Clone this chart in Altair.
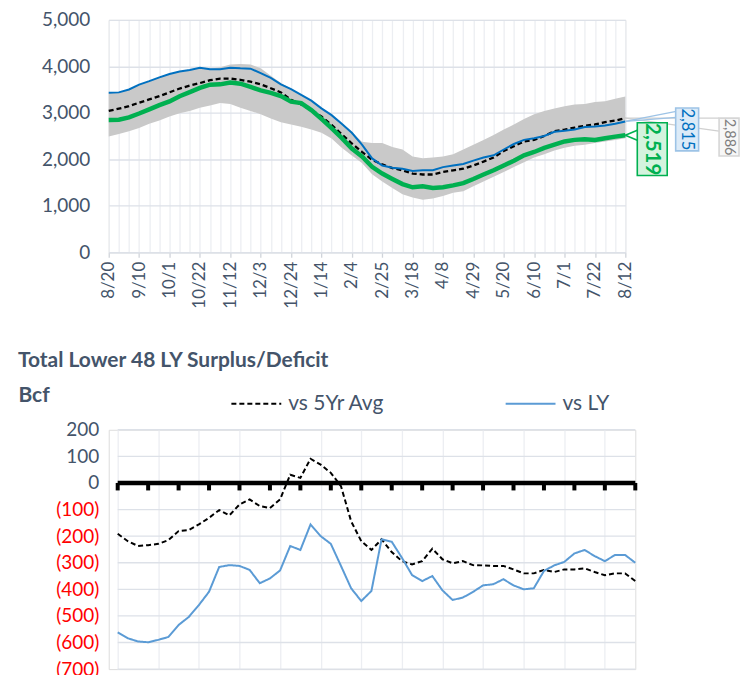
import altair as alt
import pandas as pd

# ---------------- data ----------------
week_dates = pd.date_range("2022-08-20", periods=52, freq="7D")
week_labels = [f"{d.month}/{d.day}" for d in week_dates]
weeks = list(range(52))

storage_current = [2847, 2850, 2902, 2985, 3075, 3164, 3246, 3358, 3447, 3536, 3606, 3613, 3654,
                   3627, 3557, 3482, 3430, 3360, 3240, 3210, 3060, 2870, 2670, 2460, 2230, 2060,
                   1840, 1694, 1577, 1466, 1398, 1418, 1383, 1398, 1439, 1487, 1577, 1673, 1764,
                   1867, 1971, 2087, 2157, 2246, 2315, 2385, 2418, 2433, 2418, 2453, 2488, 2519]
storage_last_year = [3433, 3440, 3503, 3606, 3681, 3764, 3834, 3889, 3923, 3971, 3937, 3937, 3971,
                     3958, 3951, 3855, 3751, 3613, 3509, 3385, 3261, 3095, 2950, 2764, 2571, 2315,
                     2019, 1867, 1818, 1797, 1749, 1763, 1763, 1832, 1867, 1901, 1971, 2039, 2087,
                     2211, 2329, 2418, 2453, 2501, 2592, 2613, 2640, 2696, 2708, 2729, 2764, 2815]
storage_5yr_avg = [3040, 3089, 3143, 3219, 3288, 3358, 3441, 3523, 3586, 3640, 3702, 3737, 3737,
                   3710, 3669, 3613, 3530, 3440, 3280, 3180, 3060, 2920, 2740, 2540, 2340, 2160,
                   1990, 1890, 1812, 1764, 1694, 1673, 1673, 1729, 1764, 1797, 1867, 1950, 2039,
                   2178, 2281, 2385, 2418, 2501, 2605, 2640, 2681, 2723, 2750, 2799, 2833, 2886]
storage_5yr_max = [3433, 3440, 3503, 3606, 3681, 3764, 3834, 3889, 3923, 3971, 3950, 3980, 4040,
                   4050, 4040, 3960, 3800, 3640, 3520, 3390, 3265, 3100, 2955, 2770, 2580, 2380,
                   2350, 2350, 2267, 2211, 2060, 2025, 2039, 2060, 2108, 2211, 2315, 2418, 2522,
                   2640, 2750, 2868, 2971, 3040, 3095, 3143, 3178, 3192, 3234, 3247, 3302, 3350]
storage_5yr_min = [2488, 2543, 2604, 2674, 2764, 2833, 2923, 2992, 3040, 3109, 3157, 3213, 3192,
                   3109, 3040, 2971, 2880, 2800, 2750, 2700, 2640, 2570, 2450, 2250, 2080, 1920,
                   1680, 1522, 1383, 1246, 1176, 1128, 1155, 1211, 1280, 1315, 1418, 1522, 1625,
                   1729, 1832, 1936, 2039, 2108, 2191, 2246, 2294, 2315, 2350, 2385, 2418, 2453]
top_y_ticks = [0, 1000, 2000, 3000, 4000, 5000]

series_names = ["vs 5Yr Avg", "vs LY"]
diff_vs_5yr = [-191, -219, -237, -234, -229, -215, -181, -177, -156, -131, -102, -122, -81,
               -62, -87, -94, -62, 31, 19, 91, 69, 38, -12, -144, -219, -252, -212, -260,
               -294, -306, -294, -247, -287, -302, -294, -309, -310, -312, -312, -325, -340,
               -340, -327, -335, -325, -325, -321, -335, -347, -340, -340, -369]
diff_vs_ly = [-562, -584, -596, -599, -590, -579, -534, -504, -459, -409, -316, -309, -312,
              -327, -377, -359, -329, -237, -252, -156, -200, -229, -312, -396, -444, -406,
              -212, -221, -281, -346, -369, -350, -404, -440, -431, -410, -385, -381, -362,
              -385, -400, -396, -331, -310, -297, -265, -252, -275, -294, -271, -271, -300]
bot_y_ticks = list(range(-700, 201, 100))

bottom_title = "Total Lower 48 LY Surplus/Deficit"

# ---------------- styling ----------------
FONT = "Lato"
SLATE = "#44546a"
HGRID = "#dde1e8"
VGRID = "#eceef2"

top_df = pd.DataFrame({"week": weeks, "cur": storage_current, "ly": storage_last_year,
                       "avg": storage_5yr_avg, "hi": storage_5yr_max, "lo": storage_5yr_min})

lab_arr = "[" + ",".join(f"'{s}'" for s in week_labels) + "]"

x_top_axis = alt.Axis(values=weeks, labelExpr=f"datum.value % 3 === 0 ? {lab_arr}[datum.value] : ''",
                      labelAngle=-90, labelOverlap=False, labelFont=FONT, labelFontSize=17,
                      labelColor=SLATE, labelPadding=4, grid=True, gridColor=VGRID, gridWidth=1.3,
                      domainColor=HGRID, domainWidth=1.3,
                      tickColor={"condition": {"test": "datum.value % 3 === 0", "value": "#d0d4da"},
                                 "value": "rgba(0,0,0,0)"},
                      tickSize=5, tickWidth=1.3, title=None)
x_top_scale = alt.Scale(domain=[0, 51], nice=False, zero=False)
y_top_scale = alt.Scale(domain=[0, 5000], nice=False)
y_top_axis = alt.Axis(values=top_y_ticks, format=",d", labelFont=FONT,
                      labelFontSize=19, labelColor=SLATE, labelPadding=19, grid=True,
                      gridColor=HGRID, gridWidth=1.3, domain=False, ticks=False, title=None)


def xt():
    return alt.X("week:Q", scale=x_top_scale, axis=x_top_axis, title=None)


def yt(field):
    return alt.Y(f"{field}:Q", scale=y_top_scale, axis=y_top_axis, title=None)


band = alt.Chart(top_df).mark_area(color="#c9c9c9", opacity=1).encode(x=xt(), y=yt("lo"), y2="hi:Q")
avg_line = alt.Chart(top_df).mark_line(color="black", strokeWidth=2.3, strokeDash=[5, 3]).encode(x=xt(), y=yt("avg"))
ly_line = alt.Chart(top_df).mark_line(color="#0070c0", strokeWidth=2).encode(x=xt(), y=yt("ly"))
cur_line = alt.Chart(top_df).mark_line(color="#00b050", strokeWidth=4.5).encode(x=xt(), y=yt("cur"))


def callout(value, label, text_color, fill, stroke, fsize, fweight, w, h, dx, dy, leaders, lcolor, lwidth):
    d = pd.DataFrame({"week": [weeks[-1]], "v": [value], "label": [label]})
    base = alt.Chart(d).encode(x=xt(), y=yt("v"))
    layers = []
    for (ox, oy) in leaders:
        layers.append(base.mark_rule(color=lcolor, strokeWidth=lwidth, x2Offset=ox, y2Offset=oy)
                      .encode(x2="week:Q", y2="v:Q"))
    r = w / h
    shape = f"M{-r:.3f},-1H{r:.3f}V1H{-r:.3f}Z"
    layers.append(base.mark_point(shape=shape, size=h * h, filled=True, fill=fill, stroke=stroke,
                                  strokeWidth=1.6, opacity=1, xOffset=dx, yOffset=dy))
    layers.append(base.mark_text(angle=90, align="center", baseline="middle", font=FONT,
                                 fontSize=fsize, fontWeight=fweight, color=text_color,
                                 xOffset=dx, yOffset=dy).encode(text="label:N"))
    return layers


call_gray = callout(storage_5yr_avg[-1], "2,886", "#808080", "#f7f7f7", "#d6d6d6", 14.5, "normal",
                    20, 38, 104, 19, [(94, 0), (94, 13)], "#d0d0d0", 1.3)
call_blue = callout(storage_last_year[-1], "2,815", "#0070c0", "#dcebf8", "#9dc3e6", 16.5, "normal",
                    23, 43, 62, 8, [(51, -10), (51, -4)], "#9dc3e6", 1.3)
call_green = callout(storage_current[-1], "2,519", "#00b050", "#d4f3de", "#00b050", 20.5, "bold",
                     30, 53, 27, 14, [(12, -5), (12, 5)], "#00b050", 1.6)

top = alt.layer(band, avg_line, ly_line, cur_line, *call_gray, *call_blue, *call_green).properties(
    width=518, height=233)

# ---------------- bottom chart ----------------
SHIFT = 9  # the lower plot starts a little to the right of the upper one
bot_df = pd.DataFrame({"week": weeks + weeks,
                       "series": [series_names[0]] * 52 + [series_names[1]] * 52,
                       "value": diff_vs_5yr + diff_vs_ly})

x_bot_scale = alt.Scale(domain=[0, 51], nice=False, zero=False, range=[SHIFT, 519 + SHIFT])
y_bot_scale = alt.Scale(domain=[-700, 200], nice=False, zero=False)
x_bot_axis = alt.Axis(values=weeks, grid=True, gridColor=VGRID, gridWidth=1.3, labels=False,
                      ticks=False, domain=False, title=None)
y_bot_axis = alt.Axis(values=bot_y_ticks,
                      labelExpr="datum.value < 0 ? '(' + format(-datum.value, ',') + ')' : format(datum.value, ',')",
                      labelColor={"condition": {"test": "datum.value < 0", "value": "#ff0000"}, "value": SLATE},
                      labelFont=FONT, labelFontSize=19, labelPadding=19 - SHIFT, grid=False,
                      domain=False, ticks=False,
                      title="Bcf", titleAngle=0, titleX=-91, titleY=-34, titleAlign="left",
                      titleBaseline="middle", titleFont=FONT, titleFontSize=21, titleFontWeight="bold",
                      titleColor=SLATE)


def xb(field="week"):
    return alt.X(f"{field}:Q", scale=x_bot_scale, axis=x_bot_axis, title=None)


def yb(field="value"):
    return alt.Y(f"{field}:Q", scale=y_bot_scale, axis=y_bot_axis)


legend = alt.Legend(orient="none", legendX=122, legendY=-52, direction="horizontal", title=None,
                    symbolType="stroke", symbolSize=2500, symbolStrokeWidth=2, labelFont=FONT,
                    labelFontSize=21, labelColor=SLATE, columnPadding=117, padding=0, labelOffset=6)

grid_df = pd.DataFrame({"v": bot_y_ticks})
hgrid = alt.Chart(grid_df).mark_rule(color=HGRID, strokeWidth=1.3).encode(
    y=yb("v"), x=alt.datum(0, scale=x_bot_scale), x2=alt.datum(51))

diff_lines = alt.Chart(bot_df).mark_line(strokeWidth=2).encode(
    x=xb(), y=yb(),
    color=alt.Color("series:N", scale=alt.Scale(domain=series_names, range=["#000000", "#5b9bd5"]), legend=legend),
    strokeDash=alt.StrokeDash("series:N", scale=alt.Scale(domain=series_names, range=[[5, 3], [1, 0]]), legend=legend),
)

zero_df = pd.DataFrame({"v": [0]})
zero_line = alt.Chart(zero_df).mark_rule(color="black", strokeWidth=4.5).encode(
    y=yb("v"), x=alt.datum(0), x2=alt.datum(51))
tick_df = pd.DataFrame({"week": weeks[::3], "v": [0] * len(weeks[::3])})
zero_ticks = alt.Chart(tick_df).mark_rule(color="black", strokeWidth=4, y2Offset=7.5).encode(
    x=xb(), y=yb("v"), y2="v:Q")

bottom = alt.layer(hgrid, diff_lines, zero_line, zero_ticks).properties(
    width=519 + SHIFT, height=240,
    title=alt.TitleParams(bottom_title, anchor="start", frame="group", dx=-91, font=FONT,
                          fontSize=21, fontWeight="bold", color=SLATE, offset=7),
)

chart = alt.vconcat(top, bottom, spacing=40).resolve_legend(
    color="independent", strokeDash="independent"
).properties(
    padding={"left": 9, "top": 1, "right": 0, "bottom": 0}
).configure_view(stroke=None).configure(font=FONT)

chart.save("out.html", embed_options={"renderer": "svg", "actions": False})
